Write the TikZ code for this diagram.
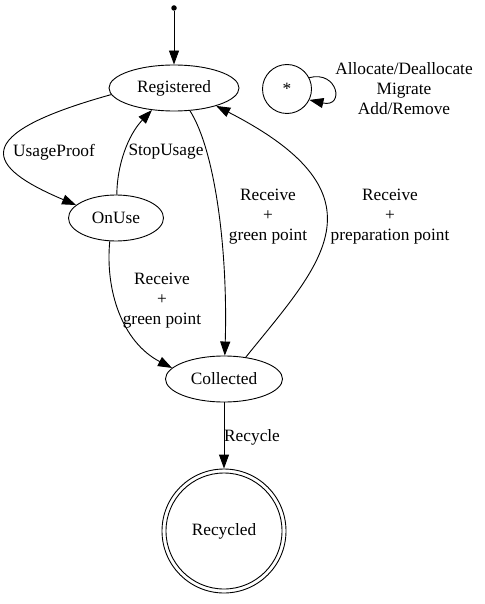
\documentclass[tikz,border=0pt]{standalone}
\usepackage{fontspec}
\setmainfont{Liberation Serif}
\usetikzlibrary{shapes.geometric,arrows.meta}
\begin{document}
\begin{tikzpicture}[x=1pt,y=-1pt,
  every node/.style={font=\fontsize{17.3}{20}\selectfont},
  state/.style={draw, ellipse, line width=0.9pt, inner sep=0pt},
  ring/.style={draw, circle, line width=0.9pt, inner sep=0pt},
  edge/.style={draw, line width=0.9pt, -{Triangle[length=14pt,width=10pt]}},
  lbl/.style={align=center, inner sep=0pt}]
\useasboundingbox (0,0) rectangle (484,604);
\node[circle, fill, minimum size=5.5pt, inner sep=0pt] (init) at (174,8) {};
\node[state, minimum width=130pt, minimum height=46pt] (reg) at (174,88) {Registered};
\node[state, minimum width=95pt, minimum height=46pt] (onuse) at (116,218) {OnUse};
\node[state, minimum width=117pt, minimum height=46pt] (coll) at (224,379) {Collected};
\node[ring, minimum size=49pt] (star) at (287,89) {*};
\node[ring, minimum size=124pt] (rec) at (224,531) {};
\node[ring, minimum size=116pt] (recin) at (224,531) {Recycled};

\draw[edge] (init) -- (reg);
\draw[edge] (reg.186) .. controls (-34,135) and (-14,167) .. (onuse.162);
\draw[edge] (onuse.88) .. controls (117,165) and (128,135) .. (reg.225);
\draw[edge] (reg.-55) .. controls (215,150) and (228,250) .. (coll.88);
\draw[edge] (onuse.-105) .. controls (105,290) and (122,342) .. (coll.168);
\draw[edge] (coll.45) .. controls (320,265) and (392,196) .. (reg.-23);
\draw[edge] (coll.south) -- (rec);
\draw[edge] (star.27) .. controls (338,70) and (345,108) .. (star.-26);

\node[lbl] (l1) at (54,152) {UsageProof};
\node[lbl] (l2) at (166,152) {StopUsage};
\node[lbl] (l3) at (268,217) {Receive\\+\\green point};
\node[lbl] (l4) at (162,301) {Receive\\+\\green point};
\node[lbl] (l5) at (390,217) {Receive\\+\\preparation point};
\node[lbl] (l6) at (404,89) {Allocate/Deallocate\\Migrate\\Add/Remove};
\node[lbl, anchor=west] (l7) at (224,437) {Recycle};
\end{tikzpicture}
\end{document}
